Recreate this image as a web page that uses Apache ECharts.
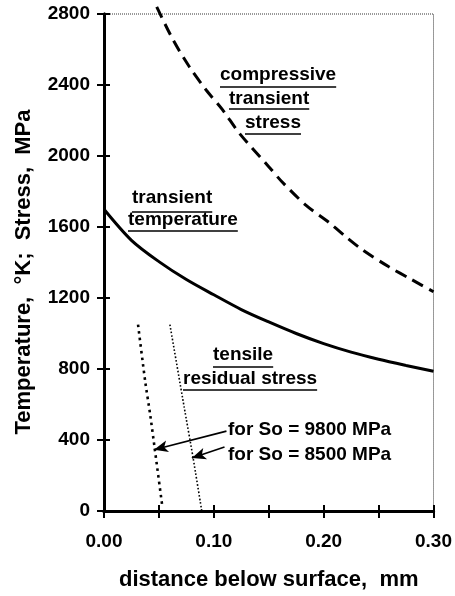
<!DOCTYPE html>
<html><head><meta charset="utf-8">
<script src="https://cdn.jsdelivr.net/npm/echarts@6/dist/echarts.min.js"></script>
<style>html,body{margin:0;padding:0;background:#fff}#c{width:455px;height:596px}</style>
</head><body><div id="c"></div>
<script>
// ---- data ----
const xTickLabels = ['0.00', '0.10', '0.20', '0.30'];
const yTickLabels = ['0', '400', '800', '1200', '1600', '2000', '2400', '2800'];

const transientTemperature = [
  [0.000, 1700], [0.025, 1525], [0.050, 1405], [0.075, 1304], [0.100, 1218],
  [0.125, 1135], [0.150, 1065], [0.175, 1000], [0.200, 943], [0.225, 895],
  [0.250, 855], [0.275, 820], [0.300, 787]
];
const compressiveStress = [
  [0.048, 2840], [0.063, 2653], [0.078, 2500], [0.093, 2372], [0.108, 2260],
  [0.123, 2130], [0.150, 1940], [0.162, 1855], [0.184, 1722], [0.205, 1625],
  [0.220, 1546], [0.235, 1473], [0.259, 1377], [0.280, 1304], [0.300, 1235]
];
const residual9800 = [
  [0.031, 1050], [0.0375, 730], [0.042, 545], [0.046, 360], [0.053, 30]
];
const residual8500 = [
  [0.060, 1050], [0.073, 585], [0.081, 304], [0.089, 0]
];
const arrow9800 = [[0.1115, 450], [0.0455, 345]];
const arrow8500 = [[0.1097, 360], [0.0800, 298]];

// ---- chart ----
const FF = '"Liberation Sans", Arial, Helvetica, sans-serif';
const chart = echarts.init(document.getElementById('c'), null, {renderer: 'canvas', width: 455, height: 596});

const cv = document.createElement('canvas').getContext('2d');
function textW(t, size) { cv.font = 'bold ' + size + 'px ' + FF; return cv.measureText(t).width; }

const notes = [
  {t: 'compressive', x: 220, y: 77, u: 87},
  {t: 'transient', x: 229, y: 101, u: 109},
  {t: 'stress', x: 245, y: 125, u: 134},
  {t: 'transient', x: 132, y: 200, u: 212},
  {t: 'temperature', x: 128, y: 222, u: 231},
  {t: 'tensile', x: 213, y: 357, u: 367},
  {t: 'residual stress', x: 183, y: 381, u: 390},
  {t: 'for So = 9800 MPa', x: 228, y: 432, u: null},
  {t: 'for So = 8500 MPa', x: 228, y: 457, u: null}
];
const NS = 19;
const graphics = [];
notes.forEach(n => {
  graphics.push({type: 'text', left: n.x, top: n.y - NS * 0.6, style: {text: n.t, font: 'bold ' + NS + 'px ' + FF, fill: '#000'}});
  if (n.u !== null) {
    graphics.push({type: 'line', shape: {x1: n.x, y1: n.u, x2: n.x + textW(n.t, NS), y2: n.u}, style: {stroke: '#000', lineWidth: 1.6}});
  }
});
graphics.push({
  type: 'text', x: 24, y: 272, rotation: Math.PI / 2,
  style: {text: 'Temperature,  °K;  Stress,  MPa', font: 'bold 22px ' + FF, fill: '#000', textAlign: 'center', textVerticalAlign: 'middle'}
});

const axisCommon = {
  axisLine: {show: true, onZero: false, lineStyle: {color: '#000', width: 3}},
  splitLine: {show: false}
};

const option = {
  animation: false,
  backgroundColor: '#fff',
  grid: {left: 104, right: 20, top: 14, bottom: 84, show: true, borderColor: '#333', borderWidth: 1, borderType: 'dotted'},
  xAxis: [
    Object.assign({
      type: 'value', min: 0, max: 0.3, interval: 0.05, position: 'bottom',
      axisTick: {show: true, inside: false, length: 7, lineStyle: {color: '#000', width: 2}},
      axisLabel: {
        margin: 21, color: '#000', fontFamily: FF, fontWeight: 'bold', fontSize: 19,
        formatter: v => { const i = Math.round(v * 10 * 1000) / 1000; return Number.isInteger(i) ? xTickLabels[i] : ''; }
      },
      name: 'distance below surface,  mm', nameLocation: 'middle', nameGap: 58,
      nameTextStyle: {color: '#000', fontFamily: FF, fontWeight: 'bold', fontSize: 22}
    }, axisCommon),
    Object.assign({
      type: 'value', min: 0, max: 0.3, interval: 0.05, position: 'bottom',
      axisTick: {show: true, inside: true, length: 6, lineStyle: {color: '#000', width: 2}},
      axisLabel: {show: false}
    }, axisCommon)
  ],
  yAxis: [
    Object.assign({
      type: 'value', min: 0, max: 2800, interval: 400, position: 'left',
      axisTick: {show: true, inside: false, length: 7, lineStyle: {color: '#000', width: 2}},
      axisLabel: {
        margin: 14, color: '#000', fontFamily: FF, fontWeight: 'bold', fontSize: 19,
        formatter: v => yTickLabels[Math.round(v / 400)]
      }
    }, axisCommon),
    Object.assign({
      type: 'value', min: 0, max: 2800, interval: 400, position: 'left',
      axisTick: {show: true, inside: true, length: 6, lineStyle: {color: '#000', width: 2}},
      axisLabel: {show: false}
    }, axisCommon)
  ],
  series: [
    {type: 'line', name: 'transient temperature', data: transientTemperature, smooth: 0.3, symbol: 'none',
      lineStyle: {color: '#000', width: 3}},
    {type: 'line', name: 'compressive transient stress', data: compressiveStress, smooth: 0.3, symbol: 'none', clip: false,
      lineStyle: {color: '#000', width: 3, type: [12, 7]}},
    {type: 'line', name: 'So 9800', data: residual9800, smooth: 0.2, symbol: 'none',
      lineStyle: {color: '#000', width: 2.6, type: [2.6, 4]},
      markLine: {silent: true, symbol: ['none', 'arrow'], symbolSize: [9, 14], label: {show: false},
        lineStyle: {color: '#000', width: 1.6, type: 'solid'},
        data: [[{coord: arrow9800[0]}, {coord: arrow9800[1]}]]}},
    {type: 'line', name: 'So 8500', data: residual8500, smooth: 0.2, symbol: 'none',
      lineStyle: {color: '#000', width: 1.6, type: [1.6, 2]},
      markLine: {silent: true, symbol: ['none', 'arrow'], symbolSize: [9, 14], label: {show: false},
        lineStyle: {color: '#000', width: 1.6, type: 'solid'},
        data: [[{coord: arrow8500[0]}, {coord: arrow8500[1]}]]}}
  ],
  graphic: graphics
};
chart.setOption(option);
</script>
</body></html>
